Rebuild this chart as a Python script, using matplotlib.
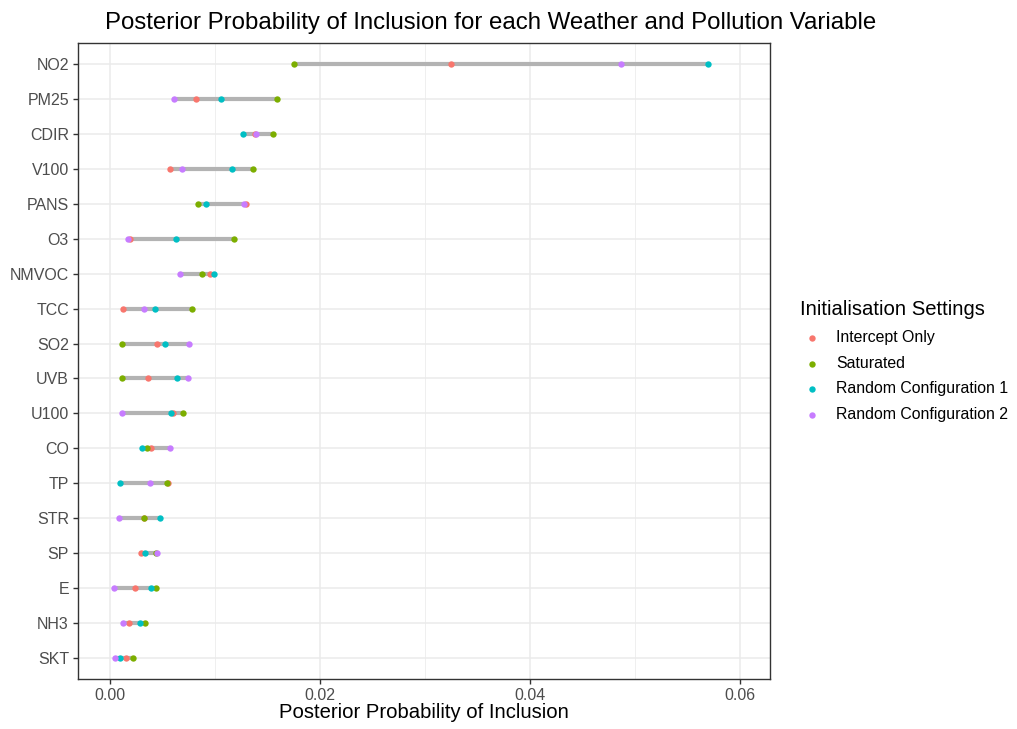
import numpy as np
import matplotlib.pyplot as plt

plt.rcParams['font.family'] = ['Liberation Sans', 'DejaVu Sans']

# variables, top to bottom
variables = ["NO2", "PM25", "CDIR", "V100", "PANS", "O3", "NMVOC", "TCC", "SO2",
             "UVB", "U100", "CO", "TP", "STR", "SP", "E", "NH3", "SKT"]

# posterior inclusion probabilities per initialisation
intercept_only = [0.03248, 0.00820, 0.01380, 0.00575, 0.01294, 0.00194, 0.00954, 0.00127, 0.00445,
                  0.00359, 0.00598, 0.00388, 0.00556, 0.00321, 0.00299, 0.00242, 0.00184, 0.00149]
saturated = [0.01750, 0.01593, 0.01558, 0.01367, 0.00836, 0.01186, 0.00881, 0.00785, 0.00118,
             0.00118, 0.00693, 0.00356, 0.00540, 0.00327, 0.00442, 0.00436, 0.00334, 0.00223]
random_1 = [0.05704, 0.01062, 0.01265, 0.01160, 0.00916, 0.00633, 0.00995, 0.00426, 0.00528,
            0.00639, 0.00585, 0.00302, 0.00099, 0.00474, 0.00337, 0.00391, 0.00286, 0.00095]
random_2 = [0.04869, 0.00610, 0.01396, 0.00690, 0.01281, 0.00175, 0.00671, 0.00321, 0.00753,
            0.00747, 0.00114, 0.00575, 0.00381, 0.00086, 0.00451, 0.00041, 0.00124, 0.00051]

series = [("Intercept Only", intercept_only, "#F8766D"),
          ("Saturated", saturated, "#7CAE00"),
          ("Random Configuration 1", random_1, "#00BFC4"),
          ("Random Configuration 2", random_2, "#C77CFF")]

fig = plt.figure(figsize=(10.17, 7.29), dpi=100)
ax = fig.add_axes([0.0767, 0.0686, 0.6804, 0.8724])

n = len(variables)
ypos = np.arange(n)[::-1]

allvals = np.array([s[1] for s in series])
lo = allvals.min(axis=0)
hi = allvals.max(axis=0)

# grey range bars
ax.hlines(ypos, lo, hi, color="#B3B3B3", linewidth=3.0, zorder=2)

for label, vals, col in series:
    ax.scatter(vals, ypos, s=21, color=col, label=label, zorder=3, linewidths=0)

ax.set_ylim(-0.6, n - 1 + 0.6)
ax.set_xlim(-0.00305, 0.0629)
ax.set_yticks(ypos)
ax.set_yticklabels(variables)
ax.set_xticks([0.0, 0.02, 0.04, 0.06])
ax.set_xticklabels(["0.00", "0.02", "0.04", "0.06"])
ax.set_xticks([0.01, 0.03, 0.05], minor=True)

ax.set_facecolor("white")
ax.grid(True, which="major", color="#EBEBEB", linewidth=1.1, zorder=0)
ax.grid(True, which="minor", axis="x", color="#EBEBEB", linewidth=0.55, zorder=0)
ax.set_axisbelow(True)
for sp in ax.spines.values():
    sp.set_color("#333333")
    sp.set_linewidth(1.0)
ax.tick_params(axis="both", which="major", length=3.5, width=1.0, color="#333333",
               labelsize=11.5, labelcolor="#4D4D4D", pad=3)
ax.tick_params(axis="both", which="minor", length=0)

ax.set_xlabel("Posterior Probability of Inclusion", fontsize=14.6, color="black", labelpad=0)
ax.set_title("Posterior Probability of Inclusion for each Weather and Pollution Variable",
             fontsize=17.3, loc="left", x=0.039, pad=10)

leg = ax.legend(loc="center left", bbox_to_anchor=(1.034, 0.5), frameon=False,
                title="Initialisation Settings", fontsize=11.4, title_fontsize=14.6,
                handletextpad=0.7, handlelength=1.6, labelspacing=0.68,
                markerscale=1.0, borderaxespad=0)
leg._legend_box.align = "left"
leg._legend_box.sep = 8

fig.savefig("out.png", dpi=100)
